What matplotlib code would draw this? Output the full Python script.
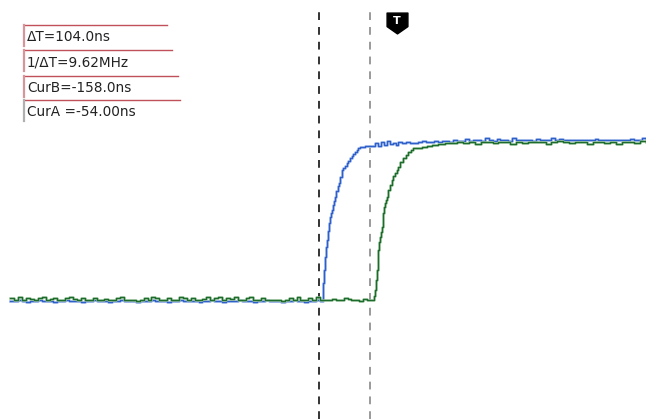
import matplotlib
matplotlib.use("Agg")
import matplotlib.pyplot as plt
from matplotlib.path import Path
from matplotlib.lines import Line2D
import matplotlib.transforms as mtransforms

# ---------------- data (time in ns, amplitude in mV) ----------------
t_base = [-788, -780, -772, -764, -756, -748, -740, -732, -724, -716,
          -708, -700, -692, -684, -676, -668, -660, -652, -644, -636,
          -628, -620, -612, -604, -596, -588, -580, -572, -564, -556,
          -548, -540, -532, -524, -516, -508, -500, -492, -484, -476,
          -468, -460, -452, -444, -436, -428, -420, -412, -404, -396,
          -388, -380, -372, -364, -356, -348, -340, -332, -324, -316,
          -308, -300, -292, -284, -276, -268, -260, -252, -244, -236,
          -228, -220, -212, -204, -196, -188, -180, -172, -164, -156]

blue_base = [-6, -6, 0, -6, -12, -6, -6, 0, -6, -6,
             -6, -12, -6, -6, 0, -6, -6, -6, -12, -6,
             -6, 0, -6, -6, -6, -12, -6, -6, 0, -6,
             -6, -6, -12, -6, -6, -6, 0, -6, -6, -6,
             -12, -6, -6, 0, -6, -6, -6, -6, -12, -6,
             -6, 0, -6, -6, -12, -6, -6, -6, 0, -6,
             -6, -6, -12, -6, -6, 0, -6, -6, -6, -12,
             -6, -6, 0, -6, -6, -12, -6, -6, 0, -6]

green_base = [12, 0, 19, 0, 12, 6, 0, 12, 19, 0,
              6, 12, 0, 0, 12, 19, 6, 0, 12, 0,
              0, 12, 0, 0, 6, 0, 0, 12, 19, 0,
              0, 0, -6, 0, 12, 0, 19, 12, 0, 0,
              12, 0, 0, 19, 12, 0, 12, 0, 0, 6,
              19, 0, 12, 19, 0, 12, 6, 19, 0, 0,
              12, 19, 0, 0, 12, 0, 0, 0, 0, -6,
              0, 12, 0, 19, 0, 0, 12, 0, 19, 0]

t_green_ext = [-148, -140, -132, -124, -116, -108, -100, -92, -84, -76, -68, -60, -52]
green_ext = [0, 0, 6, 0, 0, 12, 6, 0, 0, -6, 6, 0, 0]

t_blue_edge = [-152, -150, -149, -147, -146, -144, -142, -140, -138, -136,
               -134, -132, -130, -128, -126, -123, -120, -118, -115, -112,
               -109, -106, -102, -99, -95, -91, -88, -85, -81, -78,
               -75, -70, -64, -58]
blue_edge = [-6, 60, 106, 190, 269, 330, 375, 430, 481, 520,
             545, 562, 595, 620, 644, 680, 710, 731, 770, 812,
             825, 840, 856, 870, 888, 900, 912, 925, 940, 950,
             956, 958, 962, 962]

t_blue_top = [-52, -44, -38, -32, -26, -20, -14, -8, -2, 4,
              12, 20, 28, 36, 44, 52, 60, 68, 76, 84,
              92, 100, 108, 116, 124, 132, 140, 148, 156, 164,
              172, 180, 188, 196, 204, 212, 220, 228, 236, 244,
              252, 260, 268, 276, 284, 292, 300, 308, 316, 324,
              332, 340, 348, 356, 364, 372, 380, 388, 396, 404,
              412, 420, 428, 436, 444, 452, 460, 468, 476, 484,
              492, 500, 508]
blue_top = [962, 981, 962, 988, 969, 994, 975, 981, 969, 988,
            981, 988, 981, 981, 988, 994, 988, 988, 994, 988,
            994, 994, 988, 1000, 994, 994, 1006, 994, 1000, 1000,
            994, 1012, 1000, 994, 1006, 1000, 1000, 994, 1012, 1000,
            1000, 1000, 1000, 994, 1006, 1000, 1000, 1000, 1012, 1000,
            1006, 1000, 1000, 1000, 1000, 1000, 1000, 1000, 1000, 1006,
            1000, 1000, 1000, 1000, 1000, 1000, 1000, 1000, 1006, 1000,
            1000, 1012, 1006]

t_green_edge = [-48, -46, -44, -42, -40, -38, -37, -35, -34, -32,
                -30, -28, -27, -25, -24, -22, -20, -18, -17, -14,
                -10, -7, -3, 0, 4, 8, 14, 19, 24, 29,
                34, 42, 51, 62, 72, 85, 99]
green_edge = [0, 25, 62, 125, 188, 250, 312, 360, 394, 425,
              456, 500, 544, 580, 606, 625, 644, 665, 688, 720,
              750, 775, 794, 812, 831, 860, 888, 906, 925, 938,
              950, 953, 956, 962, 969, 975, 981]

t_green_top = [112, 124, 136, 148, 160, 172, 184, 196, 208, 220,
               232, 244, 256, 268, 280, 292, 304, 316, 328, 340,
               352, 364, 376, 388, 400, 412, 424, 436, 448, 460,
               472, 484, 496, 508]
green_top = [981, 988, 981, 988, 975, 988, 988, 981, 988, 988,
             975, 988, 981, 988, 988, 988, 975, 988, 994, 988,
             981, 988, 988, 975, 988, 988, 981, 988, 975, 988,
             988, 981, 994, 988]

cursor_b = -158.0   # ns
cursor_a = -54.0    # ns
trigger_t = 0.0     # ns

labels = ["ΔT=104.0ns", "1/ΔT=9.62MHz", "CurB=-158.0ns", "CurA =-54.00ns"]

# ---------------- figure ----------------
W, H = 646, 419
fig = plt.figure(figsize=(W / 100, H / 100), dpi=100)
fig.patch.set_facecolor("white")
ax = fig.add_axes([0, 0, 1, 1])
ax.set_axis_off()
ax.set_xlim(-809, 509)
ax.set_ylim(-744, 1875)

t_blue = t_base + t_blue_edge + t_blue_top
v_blue = blue_base + blue_edge + blue_top
t_green = t_base + t_green_ext + t_green_edge + t_green_top
v_green = green_base + green_ext + green_edge + green_top

# cursors
top_frac = 1 - 12 / H
ax.axvline(cursor_b, ymin=0, ymax=top_frac, color="#333333", lw=1.4,
           ls=(0, (4.0, 3.6)), zorder=1)
ax.axvline(cursor_a, ymin=0, ymax=top_frac, color="#9a9a9a", lw=1.4,
           ls=(0, (4.0, 3.6)), zorder=1)

# traces (halo + core)
ax.plot(t_blue, v_blue, drawstyle="steps-post", color="#b3c8ef", lw=2.0, zorder=2)
ax.plot(t_blue, v_blue, drawstyle="steps-post", color="#2f5fc8", lw=1.0, zorder=3)
ax.plot(t_green, v_green, drawstyle="steps-post", color="#a6cca8", lw=1.8, zorder=4)
ax.plot(t_green, v_green, drawstyle="steps-post", color="#1e6b2e", lw=1.0, zorder=5)

# trigger marker
verts = [(-0.5, 0.5), (0.5, 0.5), (0.5, -0.15), (0.0, -0.5), (-0.5, -0.15), (-0.5, 0.5)]
codes = [Path.MOVETO] + [Path.LINETO] * 4 + [Path.CLOSEPOLY]
trig_path = Path(verts, codes)
blend = mtransforms.blended_transform_factory(ax.transData, ax.transAxes)
ax.plot([trigger_t], [1 - 23 / H], marker=trig_path, ms=15, color="black",
        transform=blend, zorder=6, clip_on=False)
ax.text(trigger_t, 1 - 21 / H, "T", transform=blend, color="white", fontsize=8,
        fontweight="bold", ha="center", va="center", zorder=7)

# measurement boxes
box_tops = [25, 50, 76, 100]
box_right = [167, 172, 178, 180]
left_col = ["#d8949a", "#d8949a", "#d8949a", "#b0b0b0"]
for i, lab in enumerate(labels):
    yt = box_tops[i]
    fig.add_artist(Line2D([24 / W, box_right[i] / W], [1 - yt / H, 1 - yt / H],
                          color="#c0505a", lw=1.0, transform=fig.transFigure))
    fig.add_artist(Line2D([24 / W, 24 / W], [1 - yt / H, 1 - (yt + 21) / H],
                          color=left_col[i], lw=1.6, transform=fig.transFigure))
    fig.text(27 / W, 1 - (yt + 12) / H, lab, fontsize=9.8, color="#222222",
             ha="left", va="center", family="DejaVu Sans")

fig.savefig("out.png", dpi=100, facecolor="white")
